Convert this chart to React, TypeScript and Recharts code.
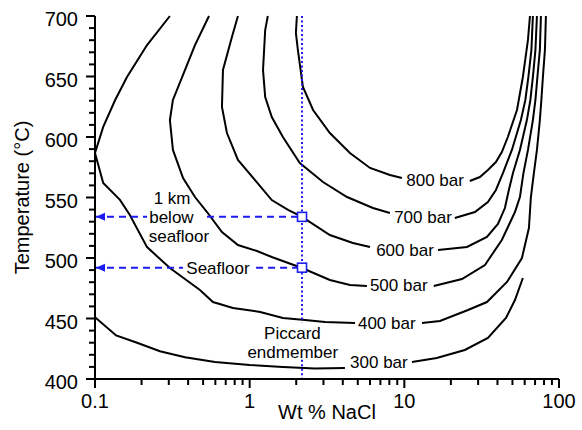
import { Line, LineChart, ReferenceDot, ReferenceLine, XAxis, YAxis } from "recharts";

const FONT = "'Liberation Sans', Arial, Helvetica, sans-serif";
const INK = "#000";
const BLUE = "#1c1cf2";

type Pt = { x: number; y: number };
const pts = (rows: number[][]): Pt[] => rows.map(([x, y]) => ({ x, y }));

// isobars: [wt % NaCl, temperature °C], split where the label sits
const bar300Left = pts([[0.1, 451], [0.137, 436], [0.187, 430], [0.263, 423], [0.382, 418], [0.597, 414], [1.0, 411.6], [1.64, 410], [2.64, 408.7], [4.13, 409]]);
const bar300Right = pts([[11.2, 414], [16.2, 417.4], [24.6, 424], [34.7, 434], [45.4, 450.4], [51.9, 465.3], [58.4, 483.5]]);
const bar400Left = pts([[0.305, 700], [0.217, 676], [0.161, 649.6], [0.135, 630.6], [0.113, 608.3], [0.1, 586.8], [0.113, 562], [0.145, 548], [0.168, 535.5], [0.217, 509], [0.305, 491.7], [0.477, 473.6], [0.579, 463.6], [0.78, 458.7], [1.17, 455.4], [1.64, 450.4], [2.28, 448.8], [3.07, 447.1], [4.8, 446.3]]);
const bar400Right = pts([[13.0, 446.3], [17.0, 447.9], [25.8, 457], [34.2, 463.6], [46.1, 480.2], [57.6, 500], [63.9, 524.8], [65.8, 550.4], [68.8, 570.2], [72.0, 589.3], [75.2, 614], [76.9, 630.6], [78.7, 649.6], [81.1, 671.9], [82.3, 700]]);
const bar500Left = pts([[0.546, 700], [0.443, 676], [0.382, 655.4], [0.319, 630.6], [0.305, 614], [0.319, 589.3], [0.371, 566.1], [0.443, 550.4], [0.53, 538], [0.662, 521.5], [0.84, 510.7], [1.115, 505.8], [1.39, 500.8], [2.18, 491.7], [3.3, 481.8], [4.45, 477.7], [5.73, 476.9]]);
const bar500Right = pts([[15.5, 476.9], [23.6, 482.6], [33.2, 494.2], [42.7, 514.9], [51.9, 538], [55.9, 550.4], [58.9, 570.2], [63.0, 589.3], [67.8, 614], [70.4, 630.6], [72.5, 649.6], [75.2, 671.9], [76.4, 700]]);
const bar600Left = pts([[0.84, 700], [0.768, 682.6], [0.672, 655.4], [0.662, 624.8], [0.713, 603.3], [0.84, 581], [1.08, 564.5], [1.39, 547.9], [1.77, 539.7], [2.18, 534], [3.3, 519], [4.65, 512.4], [6.0, 509.1]]);
const bar600Right = pts([[16.5, 506.6], [25.4, 509.1], [34.2, 517.4], [40.3, 528.1], [44.7, 541.3], [47.4, 556.2], [50.4, 570.2], [55.9, 589.3], [62.0, 614], [65.3, 630.6], [67.8, 649.6], [70.4, 671.9], [72.0, 700]]);
const bar700Left = pts([[1.31, 700], [1.26, 688.4], [1.22, 655.4], [1.26, 633], [1.39, 616.5], [1.64, 600], [2.11, 578.5], [2.98, 562.8], [4.26, 550.4], [6.27, 541.3], [8.07, 537.2]]);
const bar700Right = pts([[21.2, 533.1], [28.6, 538], [34.7, 546.3], [39.1, 556.2], [43.4, 570.2], [49.6, 589.3], [56.7, 614], [60.6, 630.6], [63.4, 649.6], [66.3, 671.9], [67.8, 700]]);
const bar800Left = pts([[2.02, 700], [1.99, 686], [2.05, 671.9], [2.21, 641.3], [2.57, 622.3], [3.3, 603.3], [4.45, 586.8], [6.0, 574.4], [8.07, 568.6], [9.65, 566.1]]);
const bar800Right = pts([[26.5, 563.6], [30.8, 566.9], [34.7, 572.7], [39.1, 579.3], [42.7, 587.6], [46.7, 600], [53.5, 622.3], [58.4, 649.6], [63.0, 680.2], [64.9, 700]]);

const isobars = [bar300Left, bar300Right, bar400Left, bar400Right, bar500Left, bar500Right, bar600Left, bar600Right, bar700Left, bar700Right, bar800Left, bar800Right];

const isobarLabels = [
	{ text: "300 bar", x: 6.85, y: 414 },
	{ text: "400 bar", x: 7.7, y: 446.3 },
	{ text: "500 bar", x: 9.2, y: 477.7 },
	{ text: "600 bar", x: 10.1, y: 506.6 },
	{ text: "700 bar", x: 13.2, y: 534 },
	{ text: "800 bar", x: 15.8, y: 564.5 },
];

const PICCARD_NACL = 2.18;
const T_BELOW = 534;
const T_SEAFLOOR = 492;

const notes = [
	{ text: "1 km", x: 0.315, y: 549.8 },
	{ text: "below", x: 0.312, y: 534 },
	{ text: "seafloor", x: 0.349, y: 518.2 },
	{ text: "Seafloor", x: 0.624, y: 492 },
	{ text: "Piccard", x: 1.89, y: 438 },
	{ text: "endmember", x: 1.9, y: 422.3 },
];

const xMajorTicks = [0.1, 1, 10, 100];
const xTicks = [0.1, 0.2, 0.3, 0.4, 0.5, 0.6, 0.7, 0.8, 0.9, 1, 2, 3, 4, 5, 6, 7, 8, 9, 10, 20, 30, 40, 50, 60, 70, 80, 90, 100];
const yMajorTicks = [400, 450, 500, 550, 600, 650, 700];
const yTicks = [400, 410, 420, 430, 440, 450, 460, 470, 480, 490, 500, 510, 520, 530, 540, 550, 560, 570, 580, 590, 600, 610, 620, 630, 640, 650, 660, 670, 680, 690, 700];

function XTick({ x, y, payload }: any) {
	const major = xMajorTicks.includes(payload.value);
	return (
		<g>
			<line x1={x} x2={x} y1={y} y2={y + (major ? 9 : 6)} stroke={INK} strokeWidth={2} />
			{major && (
				<text x={x} y={y + 29} textAnchor="middle" fontSize={20} fontFamily={FONT} fill={INK}>
					{String(payload.value)}
				</text>
			)}
		</g>
	);
}

function YTick({ x, y, payload }: any) {
	const major = yMajorTicks.includes(payload.value);
	return (
		<g>
			<line x1={x - (major ? 9 : 6)} x2={x} y1={y} y2={y} stroke={INK} strokeWidth={2} />
			{major && (
				<text x={x - 17} y={y} dy={10} textAnchor="end" fontSize={20} fontFamily={FONT} fill={INK}>
					{payload.value}
				</text>
			)}
		</g>
	);
}

function ArrowDash(props: any) {
	const { x1, y1, x2, y2, arrow } = props;
	const left = Math.min(x1, x2);
	return (
		<g>
			<line x1={x1} y1={y1} x2={x2} y2={y2} stroke={BLUE} strokeWidth={2} strokeDasharray="7 5" />
			{arrow && <path d={`M${left + 1},${y1} L${left + 10},${y1 - 4} L${left + 10},${y1 + 4} Z`} fill={BLUE} />}
		</g>
	);
}

const textShape = (text: string) => (p: any) => (
	<text x={p.cx} y={p.cy} dy="0.35em" textAnchor="middle" fontSize={17} fontFamily={FONT} fill={INK}>
		{text}
	</text>
);

const squareShape = (p: any) => (
	<rect x={p.cx - 4.5} y={p.cy - 4.5} width={9} height={9} fill="#fff" stroke={BLUE} strokeWidth={1.6} />
);

export default function App() {
	return (
		<div style={{ position: "absolute", left: 0, top: 0, background: "#fff" }}>
			<LineChart width={582} height={430} margin={{ top: 16, right: 23, bottom: 0, left: 0 }}>
				<XAxis
					dataKey="x"
					type="number"
					scale="log"
					domain={[0.1, 100]}
					ticks={xTicks}
					interval={0}
					height={51}
					tickSize={0}
					tickMargin={0}
					tickLine={false}
					axisLine={{ stroke: INK, strokeWidth: 2 }}
					tick={XTick}
					label={{ value: "Wt % NaCl", position: "insideBottom", offset: 11, fontSize: 20, fill: INK, style: { fontFamily: FONT } }}
				/>
				<YAxis
					type="number"
					domain={[400, 700]}
					ticks={yTicks}
					interval={0}
					width={95}
					tickSize={0}
					tickMargin={0}
					tickLine={false}
					axisLine={{ stroke: INK, strokeWidth: 2 }}
					tick={YTick}
					label={{ value: "Temperature (°C)", angle: -90, position: "insideLeft", offset: 22, fontSize: 20, fill: INK, style: { fontFamily: FONT, textAnchor: "middle" } }}
				/>
				{isobars.map((d, i) => (
					<Line key={i} data={d} dataKey="y" type="linear" stroke={INK} strokeWidth={2} dot={false} activeDot={false} isAnimationActive={false} />
				))}
				<ReferenceLine segment={[{ x: PICCARD_NACL, y: 700 }, { x: PICCARD_NACL, y: 447 }]} stroke={BLUE} strokeWidth={2} strokeDasharray="2 2.5" />
				<ReferenceLine segment={[{ x: PICCARD_NACL, y: 416 }, { x: PICCARD_NACL, y: 400 }]} stroke={BLUE} strokeWidth={2} strokeDasharray="2 2.5" />
				<ReferenceLine segment={[{ x: 0.1, y: T_BELOW }, { x: 0.217, y: T_BELOW }]} shape={(p: any) => <ArrowDash {...p} arrow />} />
				<ReferenceLine segment={[{ x: 0.53, y: T_BELOW }, { x: PICCARD_NACL, y: T_BELOW }]} shape={(p: any) => <ArrowDash {...p} />} />
				<ReferenceLine segment={[{ x: 0.1, y: T_SEAFLOOR }, { x: 0.371, y: T_SEAFLOOR }]} shape={(p: any) => <ArrowDash {...p} arrow />} />
				<ReferenceLine segment={[{ x: 1.1, y: T_SEAFLOOR }, { x: PICCARD_NACL, y: T_SEAFLOOR }]} shape={(p: any) => <ArrowDash {...p} />} />
				<ReferenceDot x={PICCARD_NACL} y={T_BELOW} r={5} shape={squareShape} />
				<ReferenceDot x={PICCARD_NACL} y={T_SEAFLOOR} r={5} shape={squareShape} />
				{isobarLabels.map((l) => (
					<ReferenceDot key={l.text} x={l.x} y={l.y} r={1} shape={textShape(l.text)} />
				))}
				{notes.map((n) => (
					<ReferenceDot key={n.text} x={n.x} y={n.y} r={1} shape={textShape(n.text)} />
				))}
			</LineChart>
		</div>
	);
}
